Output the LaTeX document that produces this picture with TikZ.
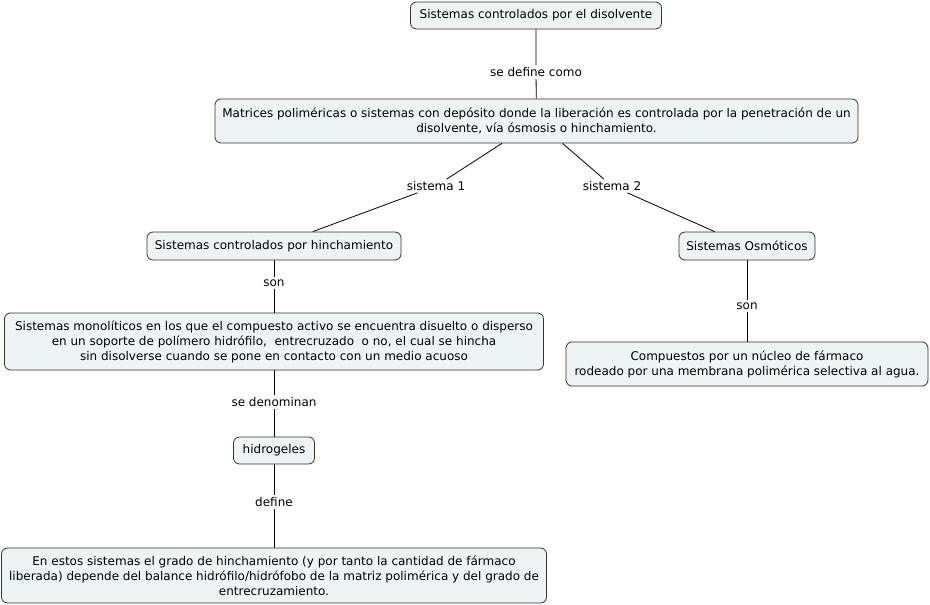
\documentclass[tikz,border=0pt]{standalone}
\usepackage{fontspec}
\setmainfont{DejaVu Sans}
\definecolor{boxfill}{HTML}{EEF3F5}
\definecolor{boxline}{HTML}{333333}
\begin{document}
\begin{tikzpicture}[x=1pt,y=-1pt,
  concept/.style={draw=boxline,line width=0.8pt,fill=boxfill,rounded corners=6pt,
    align=center,inner sep=0pt,font=\fontsize{12}{15}\selectfont},
  link/.style={inner sep=2pt,font=\fontsize{12}{15}\selectfont},
  conn/.style={draw=black,line width=0.8pt}]
\useasboundingbox (0,0) rectangle (930,605);
\node[concept,minimum width=251,minimum height=27] (top) at (536,15.5) {Sistemas controlados por el disolvente};
\node[concept,minimum width=643,minimum height=44] (mat) at (536.5,121) {Matrices poliméricas o sistemas con depósito donde la liberación es controlada por la penetración de un\\ disolvente, vía ósmosis o hinchamiento.};
\node[concept,minimum width=254,minimum height=28] (hin) at (274,246) {Sistemas controlados por hinchamiento};
\node[concept,minimum width=136,minimum height=28] (osm) at (747,246) {Sistemas Osmóticos};
\node[concept,minimum width=539,minimum height=57] (mono) at (274,341.5) {Sistemas monolíticos en los que el compuesto activo se encuentra disuelto o disperso\\ en un soporte de polímero hidrófilo,\ \ entrecruzado\ \ o no, el cual se hincha\\ sin disolverse cuando se pone en contacto con un medio acuoso};
\node[concept,minimum width=362,minimum height=44] (comp) at (747,364) {Compuestos por un núcleo de fármaco\\ rodeado por una membrana polimérica selectiva al agua.};
\node[concept,minimum width=81,minimum height=27] (hid) at (274,450.5) {hidrogeles};
\node[concept,minimum width=545,minimum height=55] (est) at (274,575.5) {En estos sistemas el grado de hinchamiento (y por tanto la cantidad de fármaco\\ liberada) depende del balance hidrófilo/hidrófobo de la matriz polimérica y del grado de\\ entrecruzamiento.};

\node[link] (l0) at (536,72) {se define como};
\node[link] (l1) at (436,186) {sistema 1};
\node[link] (l2) at (612,186) {sistema 2};
\node[link] (l3) at (274,283) {son};
\node[link] (l4) at (747,306) {son};
\node[link] (l5) at (274,402) {se denominan};
\node[link] (l6) at (274,502) {define};

\draw[conn] (top) -- (l0) (l0) -- (mat);
\draw[conn] (mat) -- (l1) (l1) -- (hin);
\draw[conn] (mat) -- (l2) (l2) -- (osm);
\draw[conn] (hin) -- (l3) (l3) -- (mono);
\draw[conn] (osm) -- (l4) (l4) -- (comp);
\draw[conn] (mono) -- (l5) (l5) -- (hid);
\draw[conn] (hid) -- (l6) (l6) -- (est);
\end{tikzpicture}
\end{document}
